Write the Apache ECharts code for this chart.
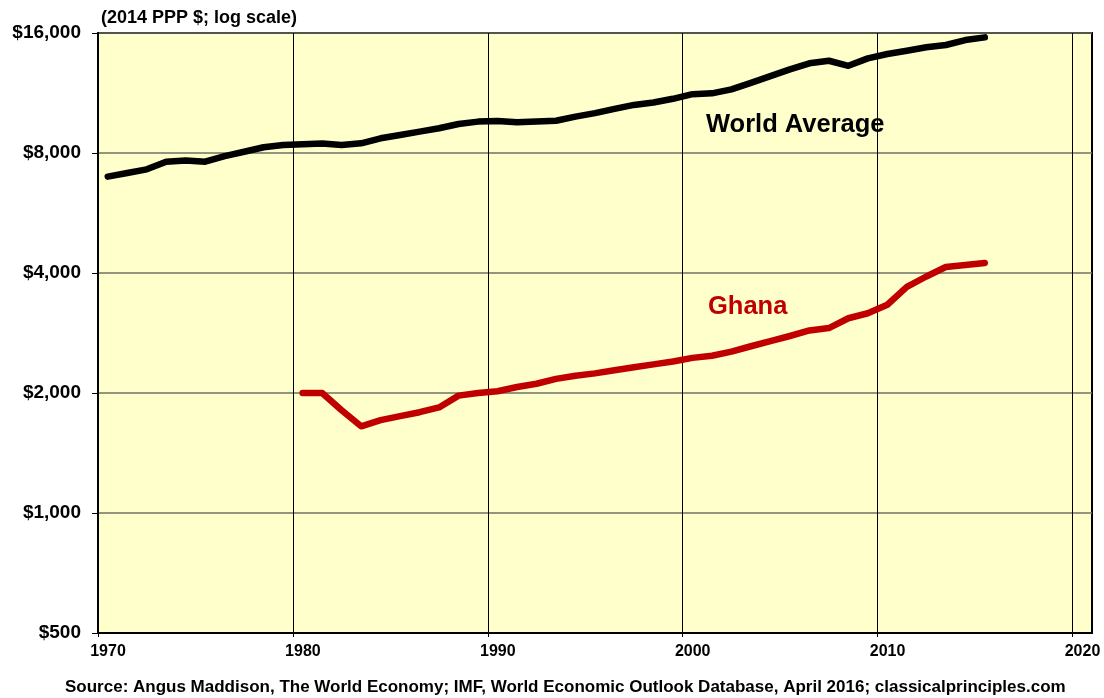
<!DOCTYPE html>
<html>
<head>
<meta charset="utf-8">
<title>Ghana vs World Average</title>
<script src="https://cdn.jsdelivr.net/npm/echarts@6/dist/echarts.min.js"></script>
<style>
    html, body { margin: 0; padding: 0; background: #fff; }
    #main { width: 1104px; height: 698px; }
</style>
</head>
<body>
<div id="main"></div>
<script>
    // GDP per capita, 2014 PPP $
    var worldYears = [1970, 1971, 1972, 1973, 1974, 1975, 1976, 1977, 1978, 1979,
        1980, 1981, 1982, 1983, 1984, 1985, 1986, 1987, 1988, 1989,
        1990, 1991, 1992, 1993, 1994, 1995, 1996, 1997, 1998, 1999,
        2000, 2001, 2002, 2003, 2004, 2005, 2006, 2007, 2008, 2009,
        2010, 2011, 2012, 2013, 2014, 2015];
    var worldValues = [6980, 7130, 7280, 7610, 7660, 7610, 7860, 8060, 8270, 8380,
        8420, 8450, 8380, 8460, 8710, 8880, 9050, 9230, 9460, 9590,
        9630, 9550, 9590, 9640, 9870, 10070, 10320, 10560, 10710, 10940,
        11240, 11290, 11550, 12000, 12470, 12970, 13430, 13630, 13240, 13820,
        14170, 14440, 14730, 14930, 15360, 15600];

    var ghanaYears = [1980, 1981, 1982, 1983, 1984, 1985, 1986, 1987, 1988, 1989,
        1990, 1991, 1992, 1993, 1994, 1995, 1996, 1997, 1998, 1999,
        2000, 2001, 2002, 2003, 2004, 2005, 2006, 2007, 2008, 2009,
        2010, 2011, 2012, 2013, 2014, 2015];
    var ghanaValues = [2000, 2000, 1810, 1650, 1710, 1750, 1790, 1840, 1970, 2000,
        2020, 2070, 2110, 2170, 2210, 2240, 2280, 2320, 2360, 2400,
        2450, 2480, 2540, 2620, 2700, 2780, 2870, 2910, 3080, 3170,
        3330, 3690, 3920, 4140, 4190, 4240];

    var yearTicks = [1970, 1980, 1990, 2000, 2010, 2020];
    var dollarTicks = [500, 1000, 2000, 4000, 8000, 16000];

    // log axis runs in units of $500 so its powers of two land on the ticks
    var UNIT = dollarTicks[0];
    // annual values are plotted at mid-year
    function toPoints(years, values) {
        return years.map(function (y, i) { return [y + 0.5, values[i] / UNIT]; });
    }

    var chart = echarts.init(document.getElementById('main'));
    var bold = 'bold';
    var font = 'Liberation Sans, Arial, sans-serif';

    var option = {
        animation: false,
        grid: {
            left: 98, right: 12, top: 33, bottom: 65,
            show: true,
            backgroundColor: '#FFFFCC',
            borderColor: '#000',
            borderWidth: 2
        },
        xAxis: {
            type: 'value',
            min: yearTicks[0],
            max: 2021,
            interval: 10,
            axisLine: { lineStyle: { color: '#000', width: 2 } },
            axisTick: { length: 4, lineStyle: { color: '#000' } },
            splitLine: { lineStyle: { color: '#000', width: 1 } },
            axisLabel: {
                color: '#000', fontWeight: bold, fontFamily: font, fontSize: 16,
                margin: 11, padding: [0, 0, 0, 20],
                showMaxLabel: false,
                formatter: function (v) { return yearTicks.indexOf(v) >= 0 ? String(v) : ''; }
            }
        },
        yAxis: {
            type: 'log',
            logBase: 2,
            min: dollarTicks[0] / UNIT,
            max: dollarTicks[dollarTicks.length - 1] / UNIT,
            splitNumber: 5,
            axisLine: { show: true, lineStyle: { color: '#000', width: 2 } },
            axisTick: { show: true, length: 6, lineStyle: { color: '#000' } },
            splitLine: { lineStyle: { color: '#707068', width: 1.5 } },
            axisLabel: {
                color: '#000', fontWeight: bold, fontFamily: font, fontSize: 19,
                margin: 17,
                formatter: function (v) {
                    return '$' + Math.round(v * UNIT).toLocaleString('en-US');
                }
            }
        },
        series: [
            {
                name: 'World Average',
                type: 'line',
                showSymbol: false,
                data: toPoints(worldYears, worldValues),
                lineStyle: { color: '#000', width: 6.5, cap: 'round', join: 'round' },
                itemStyle: { color: '#000' }
            },
            {
                name: 'Ghana',
                type: 'line',
                showSymbol: false,
                data: toPoints(ghanaYears, ghanaValues),
                lineStyle: { color: '#C00000', width: 6.5, cap: 'round', join: 'round' },
                itemStyle: { color: '#C00000' }
            }
        ],
        graphic: [
            {
                type: 'text', left: 101, top: 9,
                style: { text: '(2014 PPP $; log scale)', fill: '#000', font: 'bold 18px ' + font }
            },
            {
                type: 'text', left: 706, top: 112,
                style: { text: 'World Average', fill: '#000', font: 'bold 25.5px ' + font }
            },
            {
                type: 'text', left: 708, top: 294,
                style: { text: 'Ghana', fill: '#C00000', font: 'bold 25.5px ' + font }
            },
            {
                type: 'text', left: 65, top: 679,
                style: {
                    text: 'Source: Angus Maddison, The World Economy; IMF, World Economic Outlook Database, April 2016; classicalprinciples.com',
                    fill: '#000', font: 'bold 17px ' + font
                }
            }
        ]
    };

    chart.setOption(option);
</script>
</body>
</html>
